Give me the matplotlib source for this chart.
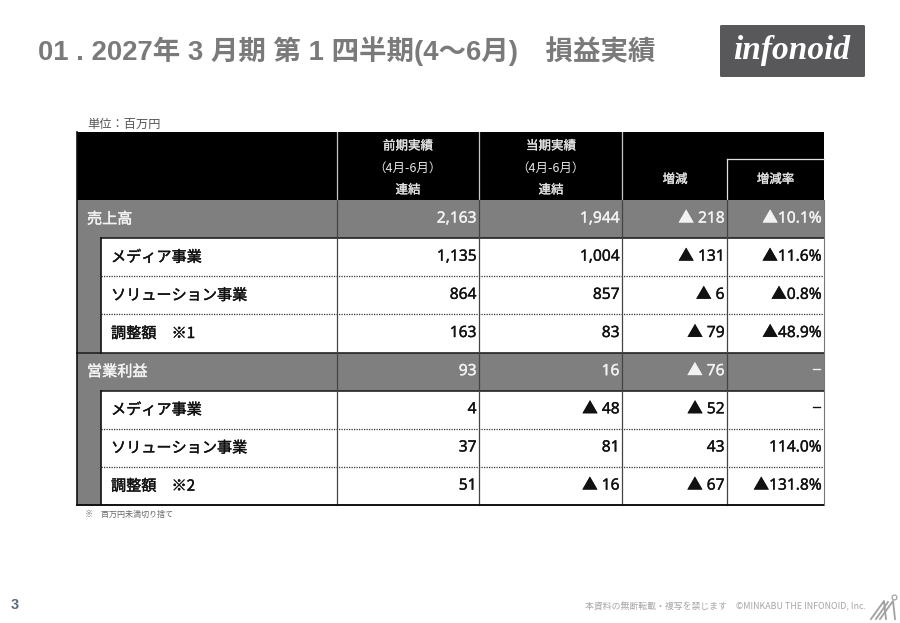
import matplotlib
matplotlib.use('Agg')
import matplotlib.pyplot as plt
import matplotlib.patheffects as pe
from matplotlib.patches import Rectangle, FancyBboxPatch

plt.rcParams['font.family'] = ['Noto Sans CJK JP', 'DejaVu Sans']

title = '01 . 2027年 3 月期 第 1 四半期(4〜6月)　損益実績'
unit = '単位：百万円'
note = '※　百万円未満切り捨て'
footer = '本資料の無断転載・複写を禁じます　©MINKABU THE INFONOID, Inc.'
page = '3'
row_labels = ['売上高', 'メディア事業', 'ソリューション事業', '調整額　※1',
              '営業利益', 'メディア事業', 'ソリューション事業', '調整額　※2']
is_total = [True, False, False, False, True, False, False, False]
prev_period = ['2,163', '1,135', '864', '163', '93', '4', '37', '51']
curr_period = ['1,944', '1,004', '857', '83', '16', '▲ 48', '81', '▲ 16']
change = ['▲ 218', '▲ 131', '▲ 6', '▲ 79', '▲ 76', '▲ 52', '43', '▲ 67']
change_rate = ['▲10.1%', '▲11.6%', '▲0.8%', '▲48.9%', '−', '−', '114.0%', '▲131.8%']

W, H = 900, 623
fig = plt.figure(figsize=(W / 100, H / 100), dpi=100)
ax = fig.add_axes([0, 0, 1, 1])
ax.set_xlim(0, W)
ax.set_ylim(H, 0)
ax.axis('off')

GREY = '#7f7f7f'
cols = [77, 337, 479, 622, 727, 824]
inner = 101
top, head_bot = 132, 200
row_h = 38.15


def medium(color, width=0.3):
    return [pe.withStroke(linewidth=width, foreground=color)]


# header
ax.add_patch(Rectangle((cols[0], top), cols[-1] - cols[0], head_bot - top, fc='black', ec='none'))
for x in cols[1:4]:
    ax.plot([x, x], [top, head_bot], color='#c8c8c8', lw=0.9)
ax.plot([727, 824], [159, 159], color='#e0e0e0', lw=0.9)
ax.plot([727, 727], [159, head_bot], color='#e0e0e0', lw=0.9)
hc = '#e4e4e4'
for cx, head in [(408, '前期実績'), (551, '当期実績')]:
    ax.text(cx, 146, head, color=hc, fontsize=9, ha='center', va='center', path_effects=medium(hc, 0.2))
    ax.text(cx - 0.5, 168.5, '（4月-6月）', color=hc, fontsize=9, ha='center', va='center')
    ax.text(cx, 190, '連結', color=hc, fontsize=9, ha='center', va='center', path_effects=medium(hc, 0.2))
ax.text(675, 179.5, '増減', color=hc, fontsize=9, ha='center', va='center', path_effects=medium(hc, 0.2))
ax.text(775.5, 179.5, '増減率', color=hc, fontsize=9, ha='center', va='center', path_effects=medium(hc, 0.2))

# body
n = len(row_labels)
ybot = head_bot + n * row_h
ax.add_patch(Rectangle((cols[0], head_bot), inner - cols[0], ybot - head_bot, fc=GREY, ec='none', zorder=0))
values = [prev_period, curr_period, change, change_rate]
for i in range(n):
    y0 = head_bot + i * row_h
    ym = y0 + row_h / 2
    total = is_total[i]
    if total:
        ax.add_patch(Rectangle((cols[0], y0), cols[-1] - cols[0], row_h, fc=GREY, ec='none', zorder=0))
    tc = '#f2f2f2' if total else '#111111'
    ax.text(87 if total else 111, ym, row_labels[i], color=tc, fontsize=10.9,
            ha='left', va='center', zorder=3, path_effects=medium(tc, 0.3))
    for c, vals in enumerate(values):
        v = vals[i]
        ax.text(cols[c + 2] - 2.5, ym - 0.5, v, color=tc, family=['Noto Sans', 'Noto Sans CJK JP'],
                fontsize=11.2, ha='right', va='center', zorder=3, path_effects=medium(tc, 0.25))
    if i > 0:
        if is_total[i]:
            ax.plot([cols[0], cols[-1]], [y0, y0], color='#222222', lw=1.2, zorder=2)
        elif is_total[i - 1]:
            ax.plot([inner, cols[-1]], [y0, y0], color='#222222', lw=1.2, zorder=2)
        else:
            ax.plot([inner, cols[-1]], [y0, y0], color='#333333', lw=0.9, ls=(0, (1, 1)), zorder=2)
for x in cols[1:5]:
    ax.plot([x, x], [head_bot, ybot], color='#444444', lw=0.9, zorder=2)
ax.plot([inner, inner], [head_bot + row_h, head_bot + 4 * row_h], color='#111111', lw=1.2, zorder=2)
ax.plot([inner, inner], [head_bot + 5 * row_h, ybot], color='#111111', lw=1.2, zorder=2)
ax.plot([cols[0], cols[-1]], [ybot, ybot], color='#111111', lw=1.4, zorder=2)
ax.plot([cols[0], cols[0]], [top, ybot], color='#111111', lw=1.2, zorder=2)
ax.plot([cols[-1], cols[-1]], [head_bot, ybot], color='#777777', lw=0.8, zorder=2)

# titles and notes
ax.text(38, 51, title, color='#7a7a7a', fontsize=19.8, weight='bold', ha='left', va='center',
        family=['Liberation Sans', 'Noto Sans CJK JP'])
ax.text(87, 124, unit, color='#555555', fontsize=8.8, ha='left', va='center')
ax.text(85, 514, note, color='#666666', fontsize=5.8, ha='left', va='center')
ax.text(11, 605, page, color='#5a6b7b', fontsize=10.5, weight='bold', ha='left', va='center', family='Liberation Sans')
ax.text(866, 606.5, footer, color='#a6a6a6', fontsize=6.4, ha='right', va='center')

# logo
ax.add_patch(FancyBboxPatch((720, 25), 145, 52, boxstyle='round,pad=0,rounding_size=1.5', fc='#58585a', ec='none'))
ax.text(792, 50, 'infonoid', color='white', fontsize=24, style='italic', weight='bold',
        family='Liberation Serif', ha='center', va='center')

# corner mark
for xs, ys in [([871, 884, 886], [619, 601, 619]), ([880, 893, 895], [619, 601, 619]),
               ([876, 888], [619, 602])]:
    ax.plot(xs, ys, color='#a0a0a0', lw=1.3)
ax.plot([894], [597], 'o', mfc='white', mec='#a0a0a0', ms=3.5, mew=0.9)

fig.savefig('out.png', dpi=100)
